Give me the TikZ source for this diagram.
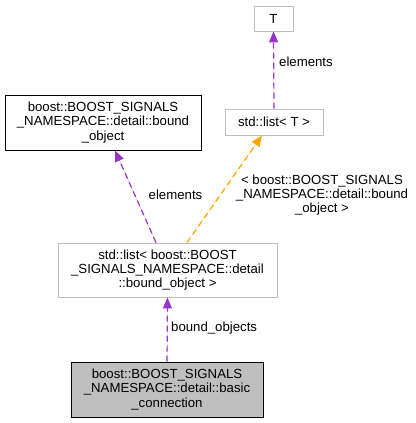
\documentclass[tikz,border=0pt]{standalone}
\usepackage{fontspec}
\setmainfont{Liberation Sans}
\usetikzlibrary{arrows.meta}
\definecolor{memberpurple}{RGB}{154,50,205}
\definecolor{tmplorange}{RGB}{255,165,0}

\begin{document}
\begin{tikzpicture}[
  x=1pt,y=-1pt,
  box/.style={draw=black!25,fill=white,line width=0.9pt,inner sep=0pt,align=center,
    font=\fontsize{13.2}{14.2}\selectfont},
  plain/.style={box,draw=black},
  main/.style={box,draw=black,fill=black!25},
  use/.style={draw=memberpurple,dash pattern=on 6pt off 4pt,line width=1.2pt,
    -{Triangle[length=11pt,width=9pt]},fill=memberpurple},
  tmpl/.style={use,draw=tmplorange,fill=tmplorange},
  lbl/.style={font=\fontsize{13.2}{14.2}\selectfont,align=center,inner sep=0pt},
]
\useasboundingbox (0,0) rectangle (415,423);

% classes
\node[box,minimum width=39pt,minimum height=25pt] (t) at (273.5,18.5) {T};
\node[box,minimum width=98pt,minimum height=26pt] (lt) at (274,122) {std::list< T >};
\node[plain,minimum width=196pt,minimum height=55pt] (bobj) at (103,122.5)
  {boost::BOOST\_SIGNALS\\\_NAMESPACE::detail::bound\\\_object};
\node[box,minimum width=219pt,minimum height=54pt] (lob) at (167.5,270)
  {std::list< boost::BOOST\\\_SIGNALS\_NAMESPACE::detail\\::bound\_object >};
\node[main,minimum width=192pt,minimum height=55pt] (conn) at (167,389.5)
  {boost::BOOST\_SIGNALS\\\_NAMESPACE::detail::basic\\\_connection};

% relations
\draw[use] (lt.north) -- (t.south);
\draw[use] ([xshift=-11.5pt]lob.north) -- ([xshift=12pt]bobj.south);
\draw[tmpl] ([xshift=19.5pt]lob.north) -- ([xshift=-12pt]lt.south);
\draw[use] (conn.north) -- (lob.south);

% labels
\node[lbl,anchor=west] (l1) at (279,62) {elements};
\node[lbl] (l2) at (175.5,195) {elements};
\node[lbl] (l3) at (322,195) {< boost::BOOST\_SIGNALS\\\_NAMESPACE::detail::bound\\\_object >};
\node[lbl,anchor=west] (l4) at (171,328) {bound\_objects};

\end{tikzpicture}
\end{document}
